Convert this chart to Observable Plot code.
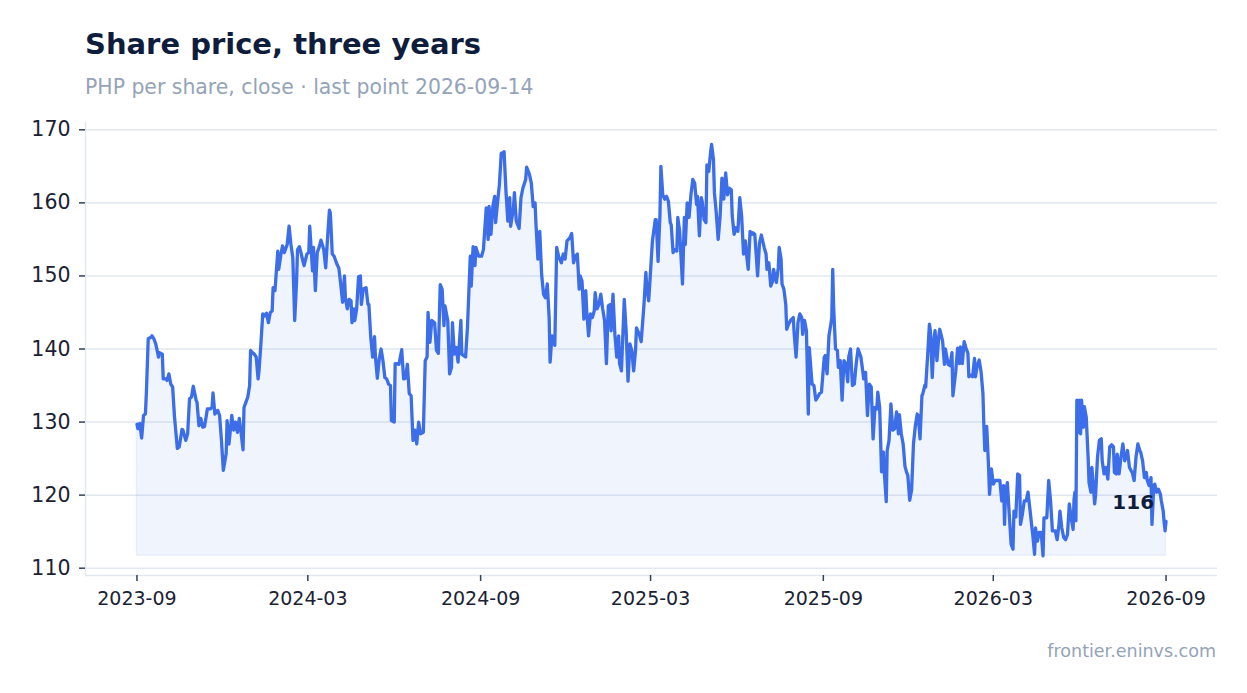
<!DOCTYPE html>
<html>
<head>
<meta charset="utf-8">
<script src="https://cdn.jsdelivr.net/npm/d3@7"></script>
<script src="https://cdn.jsdelivr.net/npm/@observablehq/plot@0.6"></script>
<style>
  html, body { margin: 0; padding: 0; background: #ffffff; }
  #wrap { position: relative; width: 1247px; height: 693px; font-family: "DejaVu Sans", sans-serif; }
  #title { position: absolute; left: 85px; top: 30px; margin: 0; font-size: 29px; line-height: 1; font-weight: bold; color: #0f1d3d; white-space: nowrap; }
  #subtitle { position: absolute; left: 85px; top: 77px; margin: 0; font-size: 20.4px; line-height: 1; color: #94a3b8; white-space: nowrap; }
  #chart { position: absolute; left: 0; top: 110px; }
  #caption { position: absolute; right: 31px; top: 643px; font-size: 17.5px; line-height: 1; color: #94a3b8; white-space: nowrap; }
</style>
</head>
<body>
<div id="wrap">
  <div id="title">Share price, three years</div>
  <div id="subtitle">PHP per share, close · last point 2026-09-14</div>
  <div id="chart"></div>
  <div id="caption">frontier.eninvs.com</div>
</div>
<script>
// Close prices, [date, close]
const prices2023 = [
  ["2023-09-14",129.7],["2023-09-15",129.1],["2023-09-17",129.8],["2023-09-19",127.8],["2023-09-21",130.9],
  ["2023-09-23",131.1],["2023-09-24",133.9],["2023-09-26",141.4],["2023-09-29",141.6],["2023-09-30",141.8],
  ["2023-10-02",141.4],["2023-10-04",140.7],["2023-10-07",138.9],["2023-10-08",139.5],["2023-10-11",139.3],
  ["2023-10-12",135.9],["2023-10-15",135.9],["2023-10-16",135.7],["2023-10-18",136.6],["2023-10-20",135.2],
  ["2023-10-22",134.8],["2023-10-24",130.7],["2023-10-27",126.4],["2023-10-29",126.6],["2023-11-01",129.0],
  ["2023-11-02",128.9],["2023-11-05",127.5],["2023-11-07",128.4],["2023-11-09",133.2],["2023-11-11",133.4],
  ["2023-11-13",134.9],["2023-11-16",133.0],["2023-11-17",132.7],["2023-11-19",129.5],["2023-11-21",130.5],
  ["2023-11-23",129.3],["2023-11-25",129.4],["2023-11-28",131.8],["2023-12-01",131.8],["2023-12-03",132.0],
  ["2023-12-04",134.0],["2023-12-06",131.1],["2023-12-09",131.6],["2023-12-11",130.9],["2023-12-13",127.5],
  ["2023-12-15",123.4],["2023-12-18",125.7],["2023-12-19",130.2],["2023-12-21",127.0],["2023-12-24",130.9],
  ["2023-12-26",128.9],["2023-12-28",130.0],["2023-12-30",128.6]
];
const prices2024 = [
  ["2024-01-01",130.5],["2024-01-03",128.4],["2024-01-05",126.2],["2024-01-06",132.0],["2024-01-08",132.7],
  ["2024-01-10",133.4],["2024-01-12",135.0],["2024-01-13",139.8],["2024-01-15",139.5],["2024-01-17",139.3],
  ["2024-01-19",138.9],["2024-01-21",135.9],["2024-01-22",137.0],["2024-01-24",140.7],["2024-01-26",144.8],
  ["2024-01-28",144.5],["2024-01-30",144.9],["2024-02-01",143.6],["2024-02-03",145.0],["2024-02-05",145.2],
  ["2024-02-06",148.4],["2024-02-08",148.0],["2024-02-11",153.4],["2024-02-12",150.9],["2024-02-14",152.7],
  ["2024-02-16",154.1],["2024-02-18",153.2],["2024-02-21",154.3],["2024-02-23",156.8],["2024-02-25",154.3],
  ["2024-02-27",152.5],["2024-02-29",143.9],["2024-03-02",149.3],["2024-03-03",153.6],["2024-03-05",154.0],
  ["2024-03-07",153.0],["2024-03-09",151.9],["2024-03-10",151.4],["2024-03-13",153.0],["2024-03-15",153.2],
  ["2024-03-16",156.8],["2024-03-17",154.8],["2024-03-19",150.7],["2024-03-20",153.9],["2024-03-22",148.0],
  ["2024-03-24",153.2],["2024-03-26",153.9],["2024-03-28",154.9],["2024-03-31",153.6],["2024-04-02",151.1],
  ["2024-04-04",155.2],["2024-04-06",159.0],["2024-04-07",158.6],["2024-04-09",153.0],["2024-04-11",152.7],
  ["2024-04-14",151.6],["2024-04-16",151.1],["2024-04-18",148.9],["2024-04-20",146.4],["2024-04-22",150.0],
  ["2024-04-23",147.0],["2024-04-25",145.5],["2024-04-27",146.8],["2024-04-29",146.6],["2024-04-30",143.6],
  ["2024-05-02",145.5],["2024-05-03",143.9],["2024-05-05",145.5],["2024-05-07",149.9],["2024-05-09",150.0],
  ["2024-05-10",146.1],["2024-05-12",148.2],["2024-05-15",148.4],["2024-05-17",146.1],["2024-05-18",146.1],
  ["2024-05-20",141.6],["2024-05-22",138.9],["2024-05-24",141.7],["2024-05-25",138.9],["2024-05-27",136.0],
  ["2024-05-29",138.6],["2024-05-31",140.0],["2024-06-02",138.4],["2024-06-04",136.1],["2024-06-06",135.9],
  ["2024-06-08",135.2],["2024-06-10",135.0],["2024-06-11",130.2],["2024-06-14",130.0],["2024-06-15",138.0],
  ["2024-06-17",138.0],["2024-06-19",137.9],["2024-06-22",139.9],["2024-06-24",135.9],["2024-06-26",136.0],
  ["2024-06-28",137.9],["2024-06-30",133.9],["2024-07-02",133.6],["2024-07-04",127.5],["2024-07-06",128.9],
  ["2024-07-08",127.0],["2024-07-10",130.0],["2024-07-12",128.4],["2024-07-15",128.6],["2024-07-17",138.4],
  ["2024-07-19",138.9],["2024-07-20",145.0],["2024-07-22",140.9],["2024-07-24",143.9],["2024-07-27",143.6],
  ["2024-07-29",139.8],["2024-07-31",139.4],["2024-08-02",148.8],["2024-08-04",148.2],["2024-08-06",143.2],
  ["2024-08-07",145.9],["2024-08-10",143.9],["2024-08-12",136.6],["2024-08-14",137.5],["2024-08-15",143.6],
  ["2024-08-17",139.3],["2024-08-19",140.2],["2024-08-21",138.2],["2024-08-24",143.9],["2024-08-25",139.3],
  ["2024-08-27",139.1],["2024-08-29",138.9],["2024-08-31",143.0],["2024-09-03",152.7],["2024-09-04",148.6],
  ["2024-09-06",154.0],["2024-09-08",151.4],["2024-09-09",153.9],["2024-09-12",152.7],["2024-09-15",152.7],
  ["2024-09-17",153.6],["2024-09-20",159.3],["2024-09-22",155.0],["2024-09-23",159.5],["2024-09-25",155.7],
  ["2024-09-27",159.5],["2024-09-29",160.9],["2024-09-30",157.3],["2024-10-02",160.0],["2024-10-04",162.5],
  ["2024-10-06",166.8],["2024-10-08",166.8],["2024-10-09",167.0],["2024-10-11",161.6],["2024-10-13",157.5],
  ["2024-10-15",160.7],["2024-10-16",156.8],["2024-10-19",159.3],["2024-10-20",161.4],["2024-10-22",157.5],
  ["2024-10-25",156.5],["2024-10-27",160.7],["2024-10-29",162.0],["2024-11-01",163.2],["2024-11-02",164.9],
  ["2024-11-05",163.9],["2024-11-07",162.7],["2024-11-09",159.5],["2024-11-11",160.0],["2024-11-12",157.0],
  ["2024-11-14",152.3],["2024-11-16",156.1],["2024-11-18",150.2],["2024-11-20",147.5],["2024-11-22",147.0],
  ["2024-11-24",148.9],["2024-11-26",144.3],["2024-11-27",138.2],["2024-11-29",141.8],["2024-12-02",140.5],
  ["2024-12-04",153.9],["2024-12-06",152.7],["2024-12-09",151.8],["2024-12-11",153.0],["2024-12-13",152.3],
  ["2024-12-15",154.8],["2024-12-18",155.2],["2024-12-20",155.8],["2024-12-22",151.8],["2024-12-24",152.7],
  ["2024-12-26",153.0],["2024-12-28",148.2],["2024-12-29",150.0],["2024-12-31",149.3]
];
const prices2025 = [
  ["2025-01-02",144.1],["2025-01-04",148.0],["2025-01-05",145.2],["2025-01-07",141.8],["2025-01-09",144.8],
  ["2025-01-11",144.3],["2025-01-13",145.2],["2025-01-14",147.7],["2025-01-16",145.5],["2025-01-18",146.1],
  ["2025-01-20",147.5],["2025-01-22",145.5],["2025-01-24",143.9],["2025-01-26",138.0],["2025-01-28",145.9],
  ["2025-01-30",146.1],["2025-01-31",142.5],["2025-02-02",147.5],["2025-02-04",142.0],["2025-02-06",138.9],
  ["2025-02-08",141.8],["2025-02-09",138.0],["2025-02-11",137.0],["2025-02-14",146.8],["2025-02-16",142.5],
  ["2025-02-18",135.6],["2025-02-20",140.7],["2025-02-22",139.8],["2025-02-24",137.0],["2025-02-26",139.8],
  ["2025-02-27",142.9],["2025-03-02",142.0],["2025-03-04",141.0],["2025-03-07",146.1],["2025-03-09",150.5],
  ["2025-03-10",148.4],["2025-03-12",146.6],["2025-03-14",150.7],["2025-03-16",154.8],["2025-03-19",157.7],
  ["2025-03-20",157.7],["2025-03-22",152.0],["2025-03-24",158.4],["2025-03-25",165.0],["2025-03-27",161.1],
  ["2025-03-29",160.5],["2025-03-31",160.9],["2025-04-02",160.2],["2025-04-04",157.3],["2025-04-05",157.0],
  ["2025-04-07",153.2],["2025-04-09",153.6],["2025-04-11",153.4],["2025-04-12",158.0],["2025-04-14",156.1],
  ["2025-04-17",148.9],["2025-04-19",158.0],["2025-04-20",154.3],["2025-04-22",160.0],["2025-04-24",158.0],
  ["2025-04-26",161.1],["2025-04-28",163.2],["2025-04-30",162.7],["2025-05-02",159.8],["2025-05-03",160.9],
  ["2025-05-05",155.5],["2025-05-07",160.7],["2025-05-08",160.2],["2025-05-10",157.7],["2025-05-12",157.3],
  ["2025-05-13",165.2],["2025-05-15",164.3],["2025-05-17",167.0],["2025-05-18",168.0],["2025-05-20",165.9],
  ["2025-05-21",161.4],["2025-05-23",158.6],["2025-05-25",155.0],["2025-05-27",158.0],["2025-05-29",163.4],
  ["2025-05-31",160.5],["2025-06-02",164.1],["2025-06-04",161.1],["2025-06-06",162.0],["2025-06-08",161.8],
  ["2025-06-09",158.2],["2025-06-11",155.7],["2025-06-13",156.6],["2025-06-15",156.1],["2025-06-17",160.7],
  ["2025-06-19",158.2],["2025-06-21",153.0],["2025-06-23",154.8],["2025-06-24",153.2],["2025-06-26",150.9],
  ["2025-06-28",156.1],["2025-06-30",155.7],["2025-07-01",155.9],["2025-07-03",155.7],["2025-07-05",152.0],
  ["2025-07-06",150.0],["2025-07-08",154.5],["2025-07-10",155.6],["2025-07-13",153.9],["2025-07-15",153.0],
  ["2025-07-16",150.9],["2025-07-18",151.8],["2025-07-20",148.6],["2025-07-22",149.3],["2025-07-23",150.9],
  ["2025-07-26",149.1],["2025-07-28",151.1],["2025-07-29",153.9],["2025-07-31",152.3],["2025-08-01",148.9],
  ["2025-08-03",148.2],["2025-08-05",146.1],["2025-08-06",142.7],["2025-08-08",143.4],["2025-08-10",143.9],
  ["2025-08-13",144.3],["2025-08-14",142.0],["2025-08-16",138.9],["2025-08-18",143.6],["2025-08-20",144.8],
  ["2025-08-22",144.3],["2025-08-23",142.0],["2025-08-25",143.9],["2025-08-27",142.5],["2025-08-29",131.1],
  ["2025-08-30",140.2],["2025-09-02",135.2],["2025-09-04",135.0],["2025-09-06",133.0],["2025-09-08",133.4],
  ["2025-09-10",133.9],["2025-09-12",134.1],["2025-09-15",138.9],["2025-09-16",139.1],["2025-09-18",136.6],
  ["2025-09-20",141.8],["2025-09-22",143.4],["2025-09-23",144.3],["2025-09-24",150.9],["2025-09-25",145.7],
  ["2025-09-27",140.0],["2025-09-29",139.8],["2025-09-30",137.5],["2025-10-02",138.4],["2025-10-04",133.0],
  ["2025-10-06",138.4],["2025-10-08",138.0],["2025-10-10",135.5],["2025-10-11",138.9],["2025-10-13",140.0],
  ["2025-10-15",135.0],["2025-10-17",135.2],["2025-10-19",138.0],["2025-10-21",140.0],["2025-10-24",138.9],
  ["2025-10-26",137.0],["2025-10-27",135.9],["2025-10-29",136.8],["2025-10-31",130.9],["2025-11-02",135.2],
  ["2025-11-04",134.8],["2025-11-06",127.7],["2025-11-08",132.0],["2025-11-10",131.8],["2025-11-11",134.1],
  ["2025-11-13",132.0],["2025-11-15",123.2],["2025-11-17",125.9],["2025-11-18",123.0],["2025-11-20",119.1],
  ["2025-11-21",126.1],["2025-11-23",127.5],["2025-11-25",132.5],["2025-11-27",128.9],["2025-11-29",129.1],
  ["2025-12-01",131.4],["2025-12-03",128.4],["2025-12-04",131.0],["2025-12-06",128.4],["2025-12-08",127.0],
  ["2025-12-10",123.9],["2025-12-12",123.0],["2025-12-13",122.7],["2025-12-15",119.3],["2025-12-17",120.7],
  ["2025-12-19",127.0],["2025-12-21",129.5],["2025-12-23",131.1],["2025-12-24",130.9],["2025-12-26",127.7],
  ["2025-12-28",133.6],["2025-12-29",133.9],["2025-12-31",135.0]
];
const prices2026 = [
  ["2026-01-01",134.8],["2026-01-03",138.9],["2026-01-05",143.4],["2026-01-06",142.5],["2026-01-08",136.1],
  ["2026-01-10",141.6],["2026-01-11",142.5],["2026-01-13",138.4],["2026-01-15",141.8],["2026-01-16",142.7],
  ["2026-01-19",141.1],["2026-01-21",137.9],["2026-01-22",140.0],["2026-01-25",137.9],["2026-01-27",137.7],
  ["2026-01-29",139.5],["2026-01-30",133.6],["2026-02-02",136.9],["2026-02-04",140.1],["2026-02-06",138.0],
  ["2026-02-07",140.3],["2026-02-09",138.0],["2026-02-11",141.0],["2026-02-13",140.1],["2026-02-15",139.4],
  ["2026-02-16",136.2],["2026-02-18",136.4],["2026-02-20",136.2],["2026-02-22",138.7],["2026-02-23",136.2],
  ["2026-02-25",137.8],["2026-02-27",138.5],["2026-03-01",136.9],["2026-03-03",133.9],["2026-03-04",129.5],
  ["2026-03-05",126.1],["2026-03-07",129.4],["2026-03-09",123.8],["2026-03-10",120.1],["2026-03-12",123.6],
  ["2026-03-14",121.5],["2026-03-16",122.0],["2026-03-19",122.0],["2026-03-21",122.0],["2026-03-23",119.2],
  ["2026-03-25",121.3],["2026-03-26",116.0],["2026-03-27",120.1],["2026-03-29",121.7],["2026-03-31",117.4],
  ["2026-04-02",113.3],["2026-04-04",112.6],["2026-04-05",117.8],["2026-04-07",117.0],["2026-04-09",122.9],
  ["2026-04-11",122.7],["2026-04-12",116.0],["2026-04-14",117.4],["2026-04-16",119.2],["2026-04-18",119.2],
  ["2026-04-20",120.4],["2026-04-22",118.1],["2026-04-25",114.6],["2026-04-27",111.9],["2026-04-28",115.5],
  ["2026-04-30",113.7],["2026-05-02",114.9],["2026-05-04",114.9],["2026-05-06",111.7],["2026-05-07",116.9],
  ["2026-05-10",116.9],["2026-05-12",122.0],["2026-05-14",119.2],["2026-05-16",115.1],["2026-05-19",115.1],
  ["2026-05-21",113.9],["2026-05-23",116.0],["2026-05-24",117.8],["2026-05-26",115.5],["2026-05-28",114.2],
  ["2026-05-30",113.9],["2026-06-01",114.6],["2026-06-03",118.8],["2026-06-05",116.9],["2026-06-07",115.3],
  ["2026-06-08",119.4],["2026-06-09",120.4],["2026-06-10",116.5],["2026-06-11",133.0],["2026-06-13",128.6],
  ["2026-06-14",133.0],["2026-06-15",128.4],["2026-06-16",133.0],["2026-06-18",129.3],["2026-06-19",132.1],
  ["2026-06-21",130.7],["2026-06-23",125.2],["2026-06-24",121.7],["2026-06-26",120.4],["2026-06-27",123.8],
  ["2026-06-30",118.8],["2026-07-01",120.1],["2026-07-03",125.2],["2026-07-05",127.5],["2026-07-07",127.7],
  ["2026-07-08",124.7],["2026-07-10",122.9],["2026-07-12",123.8],["2026-07-14",122.2],["2026-07-16",126.6],
  ["2026-07-18",126.9],["2026-07-20",126.6],["2026-07-21",123.1],["2026-07-23",122.9],["2026-07-24",125.6],
  ["2026-07-26",122.9],["2026-07-28",125.2],["2026-07-30",127.0],["2026-08-01",124.7],["2026-08-02",125.2],
  ["2026-08-04",126.1],["2026-08-06",123.8],["2026-08-08",123.3],["2026-08-09",123.1],["2026-08-11",122.0],
  ["2026-08-13",125.2],["2026-08-15",127.0],["2026-08-17",126.1],["2026-08-18",125.9],["2026-08-20",124.7],
  ["2026-08-22",122.4],["2026-08-24",123.1],["2026-08-25",122.0],["2026-08-27",121.3],["2026-08-29",122.4],
  ["2026-08-30",116.0],["2026-09-01",121.3],["2026-09-02",121.5],["2026-09-04",120.4],["2026-09-06",120.8],
  ["2026-09-08",120.1],["2026-09-09",119.2],["2026-09-11",117.8],["2026-09-12",116.2],["2026-09-13",115.1],
  ["2026-09-14",116.4]
];

// Axis ticks
const yTicks = [110, 120, 130, 140, 150, 160, 170];
const xTicks = ["2023-09-14", "2024-03-14", "2024-09-14", "2025-03-14", "2025-09-14", "2026-03-14", "2026-09-14"];
const yDomain = [109, 171];

const data = [...prices2023, ...prices2024, ...prices2025, ...prices2026]
  .map(([d, v]) => ({date: new Date(d + "T00:00:00Z"), close: v}));
const start = data[0].date;
const end = data[data.length - 1].date;
const pad = (end - start) * 0.05;
const x0 = new Date(+start - pad);
const x1 = new Date(+end + pad);
const base = d3.min(data, d => d.close);
const last = data[data.length - 1];

const blue = "#3b6ee8";
const grid = "#e2e8f0";

const chart = Plot.plot({
  width: 1247,
  height: 510,
  marginLeft: 85,
  marginRight: 30,
  marginTop: 12,
  marginBottom: 45,
  style: {fontFamily: "'DejaVu Sans', sans-serif", fontSize: "19px", color: "#1a2233", background: "#ffffff", overflow: "visible"},
  x: {type: "utc", domain: [x0, x1], label: null},
  y: {domain: yDomain, label: null},
  marks: [
    Plot.gridY(yTicks, {stroke: grid, strokeOpacity: 1, strokeWidth: 1.5}),
    Plot.ruleX([x0], {stroke: grid, strokeWidth: 1.5}),
    Plot.ruleY([yDomain[0]], {stroke: grid, strokeWidth: 1.5}),
    Plot.areaY(data, {x: "date", y1: base, y2: "close", fill: blue, fillOpacity: 0.08, stroke: blue, strokeOpacity: 0.08, strokeWidth: 1.5}),
    Plot.lineY(data, {x: "date", y: "close", stroke: blue, strokeWidth: 3.3, strokeLinejoin: "round", strokeLinecap: "round"}),
    Plot.axisY(yTicks, {tickSize: 6, tickPadding: 9, stroke: "#334155", strokeWidth: 1.5, fontSize: 20.5, label: null}),
    Plot.axisX(xTicks.map(d => new Date(d + "T00:00:00Z")), {tickSize: 6, tickPadding: 10, stroke: "#334155", strokeWidth: 1.5, fontSize: 19, tickFormat: d3.utcFormat("%Y-%m"), label: null}),
    Plot.text([last], {x: "date", y: "close", text: d => d3.format(".0f")(d.close), textAnchor: "end", dx: -12, dy: -19, fontWeight: "bold", fontSize: 20, fill: "#0f1d3d"})
  ]
});
document.getElementById("chart").appendChild(chart);
</script>
</body>
</html>
